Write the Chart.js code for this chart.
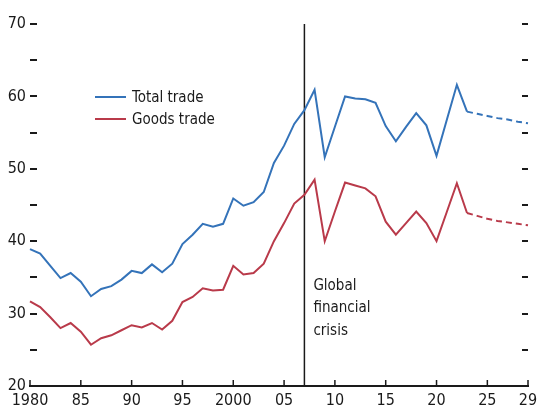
<!DOCTYPE html>
<html>
<head>
<meta charset="utf-8">
<script src="https://cdn.jsdelivr.net/npm/chart.js@4"></script>
<style>
  html, body { margin: 0; padding: 0; background: #fff; }
  #wrap { width: 537px; height: 414px; }
</style>
</head>
<body>
<div id="wrap"><canvas id="chart-trade"></canvas></div>
<script>
  const years = [
    1980, 1981, 1982, 1983, 1984, 1985, 1986, 1987, 1988, 1989,
    1990, 1991, 1992, 1993, 1994, 1995, 1996, 1997, 1998, 1999,
    2000, 2001, 2002, 2003, 2004, 2005, 2006, 2007, 2008, 2009,
    2010, 2011, 2012, 2013, 2014, 2015, 2016, 2017, 2018, 2019,
    2020, 2021, 2022, 2023, 2024, 2025, 2026, 2027, 2028, 2029
  ];
  const totalTrade = [
    38.9, 38.3, 36.6, 34.9, 35.6, 34.4, 32.4, 33.4, 33.8, 34.7,
    35.9, 35.6, 36.8, 35.7, 36.9, 39.6, 40.9, 42.4, 42.0, 42.4,
    45.9, 44.9, 45.4, 46.8, 50.8, 53.2, 56.2, 58.1, 60.9, 51.6,
    55.8, 60.0, 59.7, 59.6, 59.1, 55.9, 53.8, 55.8, 57.7, 56.0,
    51.8, 56.7, 61.6, 57.9, 57.6, 57.3, 57.0, 56.8, 56.5, 56.3
  ];
  const goodsTrade = [
    31.7, 30.9, 29.5, 28.0, 28.7, 27.5, 25.7, 26.6, 27.0, 27.7,
    28.4, 28.1, 28.7, 27.8, 29.0, 31.6, 32.3, 33.5, 33.2, 33.3,
    36.6, 35.4, 35.6, 36.9, 40.0, 42.5, 45.2, 46.4, 48.5, 40.0,
    44.1, 48.1, 47.7, 47.3, 46.2, 42.7, 40.9, 42.5, 44.1, 42.5,
    40.0, 44.0, 48.0, 43.9, 43.5, 43.1, 42.8, 42.6, 42.4, 42.2
  ];
  const xTickYears = [1980, 1985, 1990, 1995, 2000, 2005, 2010, 2015, 2020, 2025, 2029];
  const xTickLabels = ['1980', '85', '90', '95', '2000', '05', '10', '15', '20', '25', '29'];
  const projectionStart = 2023;
  const crisisYear = 2007;
  const crisisLabel = ['Global', 'financial', 'crisis'];

  const colorBlue = '#3473b9';
  const colorRed = '#b93a4a';
  const colorInk = '#1a1a1a';
  const fontFamily = "'Liberation Sans Narrow', 'DejaVu Sans Condensed', 'Arial Narrow', sans-serif";

  function dashAfterProjection(ctx) {
    return years[ctx.p0DataIndex] >= projectionStart ? [6, 4] : undefined;
  }

  const decorations = {
    id: 'decorations',
    beforeDatasetsDraw(chart) {
      const ctx = chart.ctx;
      const x = chart.scales.x;
      const y = chart.scales.y;
      const area = chart.chartArea;
      ctx.save();
      ctx.strokeStyle = colorInk;
      ctx.lineWidth = 2;

      // inward y tick dashes, both sides
      y.ticks.forEach(function (t) {
        const py = Math.round(y.getPixelForValue(t.value));
        if (t.value === y.min) return;
        ctx.beginPath();
        ctx.moveTo(area.left, py);
        ctx.lineTo(area.left + 7, py);
        ctx.moveTo(area.right - 6, py);
        ctx.lineTo(area.right, py);
        ctx.stroke();
      });

      // upward x tick marks
      ctx.lineWidth = 1.5;
      xTickYears.forEach(function (yr) {
        const px = x.getPixelForValue(years.indexOf(yr));
        ctx.beginPath();
        ctx.moveTo(px, area.bottom);
        ctx.lineTo(px, area.bottom - 6);
        ctx.stroke();
      });

      // crisis line
      const cx = x.getPixelForValue(years.indexOf(crisisYear));
      ctx.lineWidth = 1.5;
      ctx.beginPath();
      ctx.moveTo(cx, y.getPixelForValue(y.max));
      ctx.lineTo(cx, y.getPixelForValue(y.min));
      ctx.stroke();

      ctx.fillStyle = colorInk;
      ctx.font = '15px ' + fontFamily;
      ctx.textBaseline = 'middle';
      ctx.textAlign = 'left';
      crisisLabel.forEach(function (line, i) {
        ctx.fillText(line, cx + 9, y.getPixelForValue(33.8) + i * 22.5);
      });

      // legend
      chart.data.datasets.forEach(function (ds, i) {
        const ly = 97 + i * 22;
        ctx.strokeStyle = ds.borderColor;
        ctx.lineWidth = 2;
        ctx.beginPath();
        ctx.moveTo(95, ly);
        ctx.lineTo(126, ly);
        ctx.stroke();
        ctx.fillStyle = colorInk;
        ctx.fillText(ds.label, 132, ly + 1);
      });
      ctx.restore();
    }
  };

  new Chart(document.getElementById('chart-trade'), {
    type: 'line',
    data: {
      labels: years,
      datasets: [{
        label: 'Total trade',
        data: totalTrade,
        borderColor: colorBlue,
        borderWidth: 2,
        pointRadius: 0,
        tension: 0,
        segment: { borderDash: dashAfterProjection }
      }, {
        label: 'Goods trade',
        data: goodsTrade,
        borderColor: colorRed,
        borderWidth: 2,
        pointRadius: 0,
        tension: 0,
        segment: { borderDash: dashAfterProjection }
      }]
    },
    options: {
      responsive: true,
      maintainAspectRatio: false,
      animation: false,
      layout: { padding: { left: 6, right: 0, top: 24, bottom: 0 } },
      plugins: {
        legend: { display: false },
        tooltip: { enabled: false }
      },
      scales: {
        x: {
          type: 'category',
          offset: false,
          grid: { display: false, drawTicks: false },
          border: { display: true, color: colorInk, width: 2 },
          ticks: {
            autoSkip: false,
            maxRotation: 0,
            padding: 5,
            color: colorInk,
            font: { family: fontFamily, size: 16 },
            callback: function (val, idx) {
              const k = xTickYears.indexOf(years[idx]);
              return k >= 0 ? xTickLabels[k] : '';
            }
          },
          afterFit: function (scale) {
            scale.height = 28;
            scale.paddingRight = 9;
            scale.paddingLeft = 0;
          }
        },
        y: {
          min: 20,
          max: 70,
          grid: { display: false, drawTicks: false },
          border: { display: false },
          ticks: {
            stepSize: 5,
            padding: 4,
            color: colorInk,
            font: { family: fontFamily, size: 16 },
            callback: function (v) { return v % 10 === 0 ? v : ''; }
          },
          afterFit: function (scale) { scale.width = 24; }
        }
      }
    },
    plugins: [decorations]
  });
</script>
</body>
</html>
